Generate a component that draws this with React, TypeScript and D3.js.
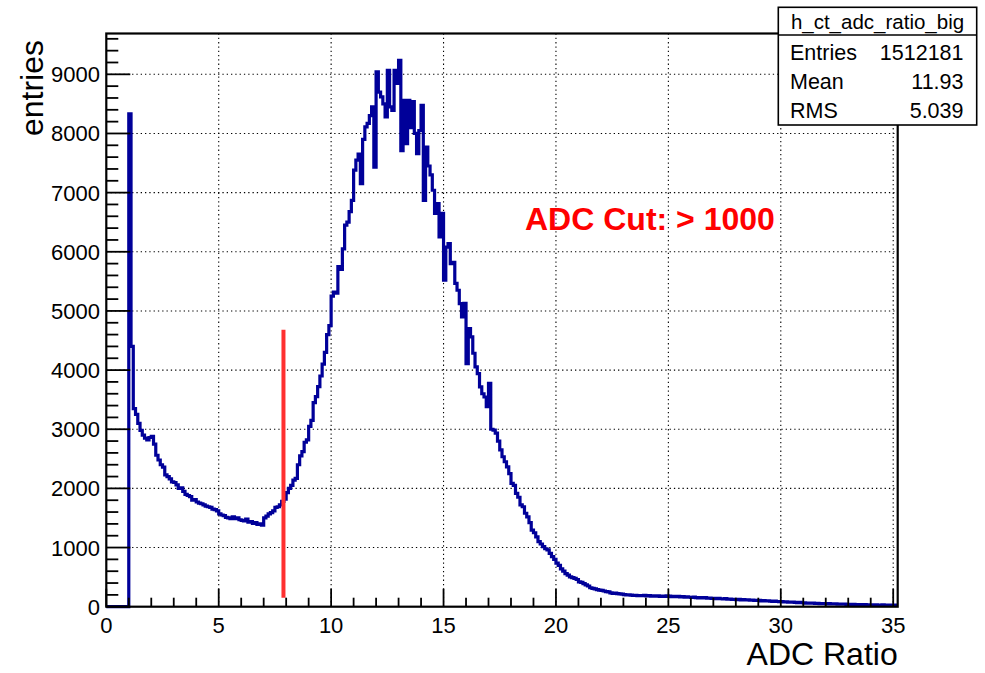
import React, { useEffect } from "react";
import * as d3 from "d3";

// histogram h_ct_adc_ratio_big : 352 bins of width 0.1 from 0 to 35.2
const binLow = 0;
const binWidth = 0.1;
const binContents = [
  0, 0, 0, 0, 0, 0, 0, 0, 0, 0,
  8330, 4400, 3350, 3250, 3100, 2980, 2900, 2850, 2820, 2860,
  2880, 2750, 2560, 2480, 2400, 2360, 2230, 2200, 2160, 2110,
  2100, 2060, 2000, 2010, 1950, 1900, 1880, 1860, 1800, 1810,
  1770, 1750, 1740, 1720, 1700, 1690, 1680, 1650, 1640, 1620,
  1570, 1550, 1540, 1510, 1500, 1490, 1520, 1490, 1500, 1470,
  1460, 1450, 1480, 1430, 1440, 1410, 1420, 1390, 1400, 1380,
  1500, 1530, 1570, 1590, 1620, 1680, 1690, 1720, 1780, 1820,
  1930, 2000, 2050, 2140, 2170, 2400, 2550, 2620, 2780, 2820,
  3050, 3150, 3450, 3550, 3720, 3900, 4100, 4300, 4600, 4750,
  5250, 5320, 5300, 5750, 5700, 6050, 6450, 6500, 6680, 6870,
  7380, 7550, 7650, 7150, 7900, 8110, 8170, 8300, 8450, 7430,
  9040, 8700, 8620, 8500, 8280, 9065, 8450, 8390, 9065, 8845,
  9235, 7710, 8560, 7830, 8560, 8100, 8540, 8000, 7660, 8050,
  8475, 6870, 7770, 7450, 7300, 7040, 6650, 6815, 6250, 6650,
  5520, 6080, 6140, 5800, 5820, 5465, 5350, 5125, 4900, 5130,
  4110, 4700, 4560, 4285, 4055, 3940, 3715, 3600, 3545, 3380,
  3775, 3000, 2985, 2935, 2800, 2650, 2535, 2450, 2365, 2250,
  2085, 2050, 1915, 1850, 1720, 1690, 1580, 1520, 1420, 1295,
  1250, 1180, 1100, 1060, 1015, 980, 960, 900, 845, 800,
  735, 700, 640, 600, 560, 535, 505, 490, 480, 460,
  420, 410, 390, 370, 350, 320, 310, 300, 290, 280,
  275, 265, 255, 250, 235, 225, 228, 220, 218, 212,
  205, 200, 202, 195, 190, 192, 186, 188, 185, 190,
  182, 186, 180, 184, 178, 182, 176, 180, 175, 183,
  178, 172, 176, 170, 174, 166, 170, 162, 166, 160,
  158, 163, 155, 150, 154, 148, 152, 144, 146, 140,
  142, 137, 140, 134, 131, 135, 128, 130, 124, 126,
  120, 123, 117, 119, 114, 116, 110, 113, 108, 105,
  106, 100, 102, 97, 99, 94, 91, 93, 88, 87,
  85, 82, 84, 78, 76, 79, 72, 70, 73, 67,
  64, 62, 60, 58, 60, 55, 56, 52, 54, 50,
  49, 51, 47, 46, 48, 44, 45, 42, 43, 40,
  41, 38, 39, 36, 37, 35, 34, 36, 32, 33,
  31, 30, 32, 29, 28, 30, 27, 26, 28, 25,
  26, 24,
];

const xMajorTicks = [0, 5, 10, 15, 20, 25, 30, 35];
const yMajorTicks = [0, 1000, 2000, 3000, 4000, 5000, 6000, 7000, 8000, 9000];
const xDomain = [0, 35.2];
const yDomain = [0, 9690];

const statsTitle = "h_ct_adc_ratio_big";
const statsNames = ["Entries", "Mean", "RMS"];
const statsValues = ["1512181", "11.93", "5.039"];

const cutX = 7.88;
const cutY = [150, 4680];
const cutLabel = "ADC Cut: > 1000";

const W = 985;
const H = 673;
const frame = { left: 106.3, right: 897.7, top: 33.5, bottom: 606.7 };
const font = "'Liberation Sans', Arial, Helvetica, sans-serif";
const histColor = "#000099";

const App = () => {
  useEffect(() => {
    document.body.style.margin = "0";
  }, []);

  const x = d3.scaleLinear().domain(xDomain).range([frame.left, frame.right]);
  const y = d3.scaleLinear().domain(yDomain).range([frame.bottom, frame.top]);

  // step points at bin edges
  const pts: [number, number][] = binContents.map((v, i) => [binLow + i * binWidth, v]);
  pts.push([binLow + binContents.length * binWidth, binContents[binContents.length - 1]]);
  const line = d3
    .line<[number, number]>()
    .x((d) => x(d[0]))
    .y((d) => y(d[1]))
    .curve(d3.curveStepAfter);

  const xMinor = d3.range(1, 36, 1).filter((v) => v % 5 !== 0);
  const yMinor = d3.range(200, 9700, 200).filter((v) => v % 1000 !== 0);

  const box = { x0: 778.3, x1: 976.7, y0: 7.3, y1: 125, div: 35 };

  return (
    <svg width={W} height={H} style={{ display: "block", position: "absolute", left: 0, top: 0 }} fontFamily={font}>
      <rect width={W} height={H} fill="#fff" />

      {/* grid */}
      <g stroke="#000" strokeWidth={1.1} strokeDasharray="1.3,3">
        {xMajorTicks.filter((t) => t > 0).map((t) => (
          <line key={"gx" + t} x1={x(t)} x2={x(t)} y1={frame.top} y2={frame.bottom} />
        ))}
        {yMajorTicks.filter((t) => t > 0).map((t) => (
          <line key={"gy" + t} x1={frame.left} x2={frame.right} y1={y(t)} y2={y(t)} />
        ))}
      </g>

      {/* histogram */}
      <path d={line(pts) || ""} fill="none" stroke={histColor} strokeWidth={3.2} />

      {/* cut line */}
      <line x1={x(cutX)} x2={x(cutX)} y1={y(cutY[0])} y2={y(cutY[1])} stroke="#ff3030" strokeWidth={4} />
      <text x={525} y={230} fill="#ff0000" fontWeight="bold" fontSize={32}>
        {cutLabel}
      </text>

      {/* ticks */}
      <g stroke="#000" strokeWidth={1.8}>
        {xMajorTicks.map((t) => (
          <line key={"xt" + t} x1={x(t)} x2={x(t)} y1={frame.bottom} y2={frame.bottom - 18} />
        ))}
        {xMinor.map((t) => (
          <line key={"xm" + t} x1={x(t)} x2={x(t)} y1={frame.bottom} y2={frame.bottom - 9} />
        ))}
        {yMajorTicks.map((t) => (
          <line key={"yt" + t} x1={frame.left} x2={frame.left + 24} y1={y(t)} y2={y(t)} />
        ))}
        {yMinor.map((t) => (
          <line key={"ym" + t} x1={frame.left} x2={frame.left + 12} y1={y(t)} y2={y(t)} />
        ))}
      </g>

      {/* frame */}
      <rect
        x={frame.left}
        y={frame.top}
        width={frame.right - frame.left}
        height={frame.bottom - frame.top}
        fill="none"
        stroke="#000"
        strokeWidth={2.2}
      />

      {/* tick labels */}
      <g fontSize={22} fill="#000">
        {xMajorTicks.map((t) => (
          <text key={"xl" + t} x={x(t)} y={633} textAnchor="middle">
            {t}
          </text>
        ))}
        {yMajorTicks.map((t) => (
          <text key={"yl" + t} x={100} y={y(t) + 8} textAnchor="end">
            {t}
          </text>
        ))}
      </g>

      {/* axis titles */}
      <text x={frame.right} y={665} textAnchor="end" fontSize={32}>
        ADC Ratio
      </text>
      <text transform="translate(43,40) rotate(-90)" textAnchor="end" fontSize={32}>
        entries
      </text>

      {/* stats box */}
      <g>
        <rect x={box.x0} y={box.y0} width={box.x1 - box.x0} height={box.y1 - box.y0} fill="#fff" stroke="#000" strokeWidth={1.6} />
        <line x1={box.x0} x2={box.x1} y1={box.div} y2={box.div} stroke="#000" strokeWidth={1.6} />
        <text x={(box.x0 + box.x1) / 2} y={28.5} textAnchor="middle" fontSize={20.5}>
          {statsTitle}
        </text>
        {statsNames.map((n, i) => (
          <g key={n} fontSize={21.5}>
            <text x={790} y={60 + i * 29}>
              {n}
            </text>
            <text x={963.5} y={60 + i * 29} textAnchor="end">
              {statsValues[i]}
            </text>
          </g>
        ))}
      </g>
    </svg>
  );
};

export default App;
